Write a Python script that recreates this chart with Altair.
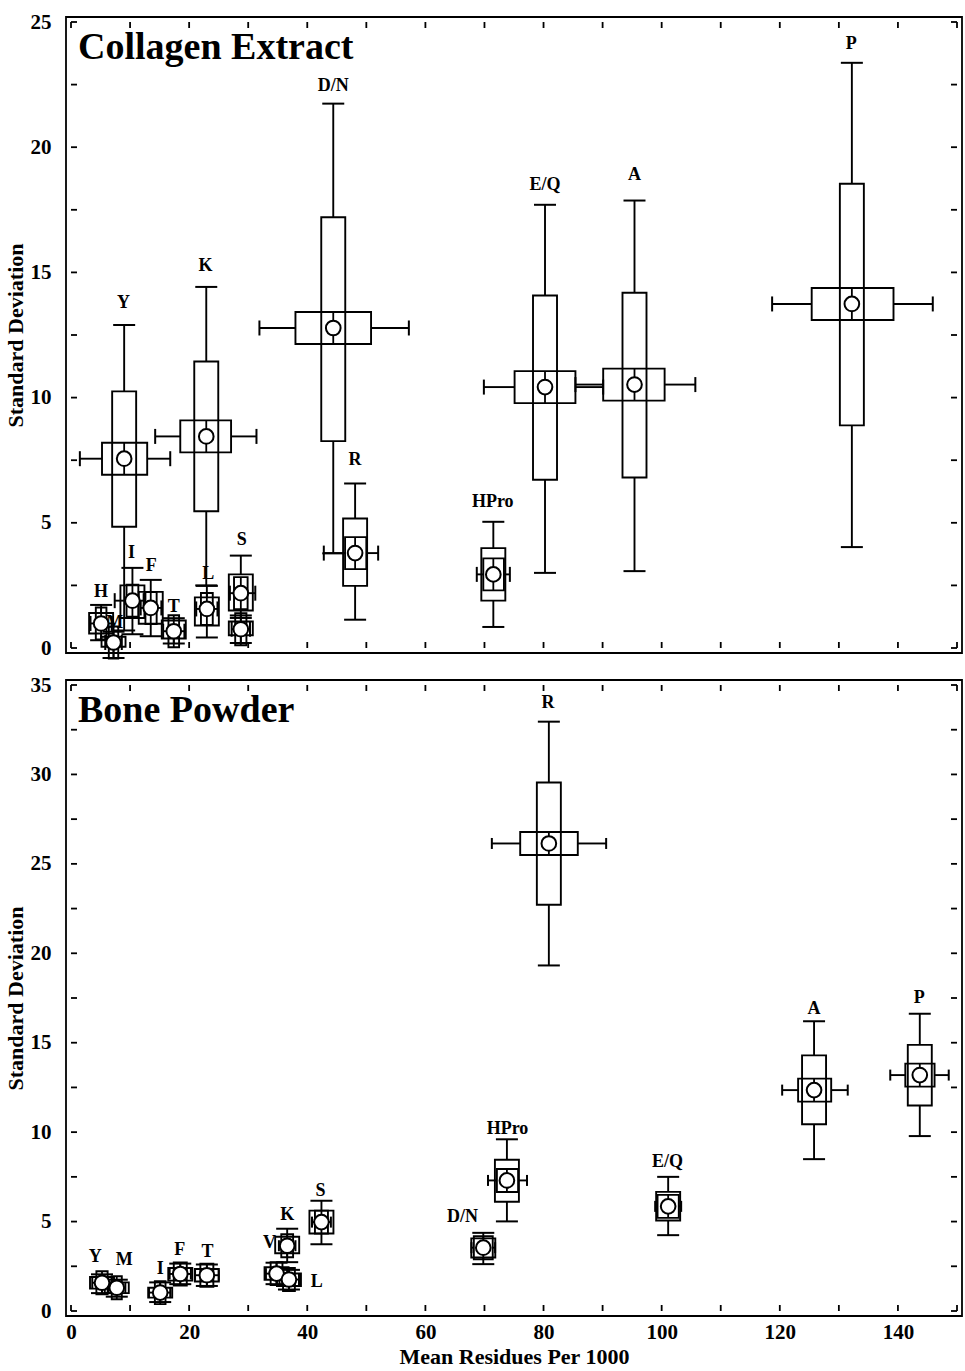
import altair as alt
import pandas as pd

FONT = "Liberation Serif"

# ---------------- axis ticks ----------------
x_ticks = [0, 10, 20, 30, 40, 50, 60, 70, 80, 90, 100, 110, 120, 130, 140, 150]
top_y_ticks = [0, 2.5, 5, 7.5, 10, 12.5, 15, 17.5, 20, 22.5, 25]
bot_y_ticks = [0, 2.5, 5, 7.5, 10, 12.5, 15, 17.5, 20, 22.5, 25, 27.5, 30, 32.5, 35]
panel_titles = ["Collagen Extract", "Bone Powder"]
y_title = "Standard Deviation"
x_title = "Mean Residues Per 1000"

# ---------------- Collagen Extract ----------------
ce_label = ["Y", "K", "D/N", "R", "HPro", "E/Q", "A", "P", "H", "M", "I", "F", "T", "L", "S", ""]
ce_x   = [9.0, 22.9, 44.4, 48.1, 71.5, 80.25, 95.4, 132.2, 5.1, 7.2, 10.4, 13.5, 17.4, 23.0, 28.75, 28.75]
ce_xq1 = [5.25, 18.5, 38.0, 46.4, 69.8, 75.1, 90.1, 125.4, 4.2, 6.4, 9.4, 12.6, 16.5, 22.0, 27.6, 27.8]
ce_xq3 = [12.9, 27.1, 50.8, 50.0, 73.3, 85.4, 100.5, 139.25, 6.0, 8.0, 11.4, 14.5, 18.3, 24.0, 29.9, 29.7]
ce_xlo = [1.5, 14.25, 31.9, 42.8, 68.7, 69.9, 85.4, 118.7, 3.3, 5.8, 7.4, 11.8, 15.6, 21.2, 26.9, 27.2]
ce_xhi = [16.8, 31.4, 57.2, 52.0, 74.3, 90.1, 105.7, 145.9, 6.9, 8.6, 12.3, 15.3, 19.2, 24.8, 31.2, 30.3]
ce_y   = [7.56, 8.45, 12.78, 3.79, 2.94, 10.42, 10.52, 13.74, 0.98, 0.22, 1.89, 1.6, 0.67, 1.56, 2.19, 0.75]
ce_yq1 = [4.84, 5.46, 8.26, 2.48, 1.89, 6.72, 6.81, 8.89, 0.58, 0.05, 1.2, 0.97, 0.38, 0.9, 1.5, 0.51]
ce_yq3 = [10.25, 11.44, 17.2, 5.17, 3.99, 14.08, 14.19, 18.54, 1.4, 0.45, 2.5, 2.24, 1.1, 2.02, 2.94, 1.06]
ce_ylo = [0.7, 2.5, 3.78, 1.13, 0.84, 3.0, 3.07, 4.03, 0.31, -0.4, 0.55, 0.47, 0.18, 0.42, 1.2, 0.2]
ce_yhi = [12.9, 14.42, 21.74, 6.57, 5.04, 17.7, 17.87, 23.37, 1.72, 0.65, 3.2, 2.72, 1.19, 2.48, 3.69, 1.3]
ce_lx  = [8.9, 22.75, 44.4, 48.1, 71.4, 80.25, 95.4, 132.1, 5.1, 7.4, 10.25, 13.6, 17.4, 23.25, 28.9, 28.9]
ce_ly  = [13.77, 15.24, 22.44, 7.49, 5.83, 18.5, 18.9, 24.13, 2.22, 1.0, 3.79, 3.27, 1.63, 2.94, 4.32, 1.6]

# ---------------- Bone Powder ----------------
bp_label = ["R", "A", "P", "HPro", "D/N", "E/Q", "Y", "M", "I", "F", "T", "V", "L", "K", "S"]
bp_x   = [80.9, 125.8, 143.7, 73.8, 69.8, 101.1, 5.25, 7.75, 15.1, 18.5, 23.0, 34.8, 36.9, 36.6, 42.4]
bp_xq1 = [76.05, 123.1, 141.25, 72.1, 68.2, 99.3, 4.3, 6.9, 14.2, 17.4, 21.9, 33.8, 35.9, 35.6, 41.3]
bp_xq3 = [85.8, 128.7, 146.2, 75.7, 71.4, 102.9, 6.2, 8.6, 16.0, 19.6, 24.1, 35.8, 37.9, 37.6, 43.5]
bp_xlo = [71.25, 120.4, 138.7, 70.6, 67.8, 98.9, 3.6, 6.3, 13.2, 16.7, 21.0, 33.0, 35.3, 35.2, 40.8]
bp_xhi = [90.6, 131.5, 148.6, 77.2, 71.8, 103.3, 6.9, 9.2, 16.8, 20.3, 25.0, 36.6, 38.6, 38.0, 44.0]
bp_y   = [26.14, 12.35, 13.19, 7.3, 3.54, 5.85, 1.58, 1.3, 1.03, 2.07, 2.0, 2.09, 1.76, 3.65, 4.97]
bp_yq1 = [22.71, 10.44, 11.49, 6.11, 2.99, 5.06, 1.25, 1.0, 0.75, 1.7, 1.65, 1.75, 1.4, 3.23, 4.33]
bp_yq3 = [29.55, 14.29, 14.88, 8.46, 4.06, 6.66, 1.9, 1.6, 1.3, 2.4, 2.35, 2.45, 2.1, 4.15, 5.61]
bp_ylo = [19.32, 8.49, 9.78, 5.01, 2.62, 4.24, 1.0, 0.8, 0.5, 1.5, 1.4, 1.5, 1.2, 2.73, 3.73]
bp_yhi = [32.95, 16.2, 16.62, 9.6, 4.37, 7.5, 2.05, 1.75, 1.6, 2.65, 2.6, 2.7, 2.3, 4.6, 6.16]
bp_lx  = [80.75, 125.8, 143.6, 73.9, 66.3, 101.0, 4.1, 9.0, 15.1, 18.4, 23.1, 33.6, 41.6, 36.6, 42.25]
bp_ly  = [34.0, 16.9, 17.5, 10.2, 5.23, 8.31, 3.03, 2.86, 2.37, 3.41, 3.30, 3.80, 1.6, 5.34, 6.71]


def make_df(label, x, xq1, xq3, xlo, xhi, y, yq1, yq3, ylo, yhi, lx, ly):
    return pd.DataFrame({
        "label": label, "x": x, "xq1": xq1, "xq3": xq3, "xlo": xlo, "xhi": xhi,
        "y": y, "yq1": yq1, "yq3": yq3, "ylo": ylo, "yhi": yhi, "lx": lx, "ly": ly,
    })


ce_df = make_df(ce_label, ce_x, ce_xq1, ce_xq3, ce_xlo, ce_xhi, ce_y, ce_yq1, ce_yq3, ce_ylo, ce_yhi, ce_lx, ce_ly)
bp_df = make_df(bp_label, bp_x, bp_xq1, bp_xq3, bp_xlo, bp_xhi, bp_y, bp_yq1, bp_yq3, bp_ylo, bp_yhi, bp_lx, bp_ly)

W, H = 896, 636
LW = 1.9
TK = 6  # inward tick length


def panel(df, ymax, yticks, hbox_h, hcap_h, name, bottom):
    xs = alt.Scale(domain=[0, 150], nice=False, zero=False)
    ys = alt.Scale(domain=[0, ymax], nice=False, zero=False)
    lab = dict(labelFont=FONT, labelFontWeight="bold", labelFontSize=21, labelColor="black",
               titleFont=FONT, titleFontWeight="bold", titleColor="black",
               ticks=False, domain=False, grid=False)
    yaxis = alt.Axis(values=yticks, labelPadding=15,
                     labelExpr="datum.value % 5 === 0 ? datum.label : ''",
                     titleFontSize=22, titlePadding=3, **lab)
    if bottom:
        xaxis = alt.Axis(values=x_ticks, labelPadding=5,
                         labelExpr="datum.value % 20 === 0 ? datum.label : ''",
                         titleFontSize=22, titlePadding=4, **lab)

        def X(f):
            return alt.X(f, scale=xs, axis=xaxis, title=x_title)
    else:
        def X(f):
            return alt.X(f, scale=xs, axis=None)

    def Y(f):
        return alt.Y(f, scale=ys, axis=yaxis, title=y_title)

    base = alt.Chart(df)

    vbox = base.mark_bar(size=24, fillOpacity=0, stroke="black", strokeWidth=LW).encode(
        x=X("x:Q"), y=Y("yq1:Q"), y2="yq3:Q")
    labels = base.mark_text(font=FONT, fontWeight="bold", fontSize=18, color="black",
                            align="center", baseline="middle").encode(
        x=X("lx:Q"), y=Y("ly:Q"), text="label:N")
    hbox = base.mark_bar(size=hbox_h, fillOpacity=0, stroke="black", strokeWidth=LW).encode(
        x=X("xq1:Q"), x2="xq3:Q", y=Y("y:Q"))
    vw_lo = base.mark_rule(color="black", strokeWidth=LW).encode(x=X("x:Q"), y=Y("ylo:Q"), y2="yq1:Q")
    vw_hi = base.mark_rule(color="black", strokeWidth=LW).encode(x=X("x:Q"), y=Y("yq3:Q"), y2="yhi:Q")
    hw_lo = base.mark_rule(color="black", strokeWidth=LW).encode(x=X("xlo:Q"), x2="xq1:Q", y=Y("y:Q"))
    hw_hi = base.mark_rule(color="black", strokeWidth=LW).encode(x=X("xq3:Q"), x2="xhi:Q", y=Y("y:Q"))
    capv = dict(orient="horizontal", size=22, thickness=2, color="black", opacity=1)
    caph = dict(orient="vertical", size=hcap_h, thickness=2, color="black", opacity=1)
    vc_lo = base.mark_tick(**capv).encode(x=X("x:Q"), y=Y("ylo:Q"))
    vc_hi = base.mark_tick(**capv).encode(x=X("x:Q"), y=Y("yhi:Q"))
    hc_lo = base.mark_tick(**caph).encode(x=X("xlo:Q"), y=Y("y:Q"))
    hc_hi = base.mark_tick(**caph).encode(x=X("xhi:Q"), y=Y("y:Q"))
    med = base.mark_tick(orient="vertical", size=hbox_h, thickness=1.8, color="black", opacity=1).encode(
        x=X("x:Q"), y=Y("y:Q"))
    circ = base.mark_circle(size=215, color="white", stroke="black", strokeWidth=2, opacity=1).encode(
        x=X("x:Q"), y=Y("y:Q"))

    # inward frame ticks on all four sides (edge positions carried as data columns)
    ydf = alt.Chart(pd.DataFrame({"v": yticks, "e0": [0] * len(yticks), "e1": [150] * len(yticks)}))
    xdf = alt.Chart(pd.DataFrame({"v": x_ticks, "e0": [0] * len(x_ticks), "e1": [ymax] * len(x_ticks)}))
    tk = dict(size=TK, thickness=1.8, color="black", opacity=1)
    t_left = ydf.mark_tick(orient="horizontal", xOffset=TK / 2, **tk).encode(x=X("e0:Q"), y=Y("v:Q"))
    t_right = ydf.mark_tick(orient="horizontal", xOffset=-TK / 2, **tk).encode(x=X("e1:Q"), y=Y("v:Q"))
    t_bot = xdf.mark_tick(orient="vertical", yOffset=-TK / 2, **tk).encode(x=X("v:Q"), y=Y("e0:Q"))
    t_top = xdf.mark_tick(orient="vertical", yOffset=TK / 2, **tk).encode(x=X("v:Q"), y=Y("e1:Q"))

    ttl = alt.Chart(pd.DataFrame({"t": [name]})).mark_text(
        font=FONT, fontWeight="bold", fontSize=38, color="black", align="left", baseline="alphabetic"
    ).encode(x=alt.value(12), y=alt.value(42), text="t:N")

    return alt.layer(vbox, labels, hbox, vw_lo, vw_hi, hw_lo, hw_hi, vc_lo, vc_hi, hc_lo, hc_hi,
                     med, circ, t_left, t_right, t_bot, t_top, ttl).properties(width=W, height=H)


top = panel(ce_df, 25, top_y_ticks, 32, 15, panel_titles[0], False)
bot = panel(bp_df, 35, bot_y_ticks, 23, 11, panel_titles[1], True)

chart = alt.vconcat(top, bot, spacing=27, bounds="flush").properties(
    padding={"left": 3, "top": 10, "right": 0, "bottom": 0},
    background="white",
).configure_view(stroke="black", strokeWidth=1.8)

chart.save("out.html", embed_options={"renderer": "svg", "actions": False})
